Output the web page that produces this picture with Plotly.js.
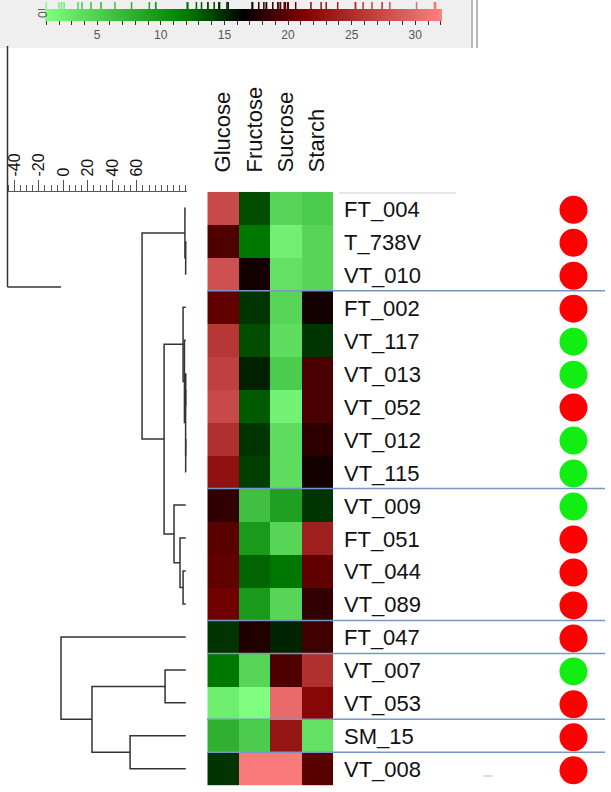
<!DOCTYPE html>
<html>
<head>
<meta charset="utf-8">
<script src="https://cdn.plot.ly/plotly-3.0.1.min.js"></script>
<style>html,body{margin:0;padding:0;background:#fff;}#chart{width:611px;height:792px;}</style>
</head>
<body>
<div id="chart"></div>
<script>
// ---------- data ----------
var sugars = ['Glucose', 'Fructose', 'Sucrose', 'Starch'];
var samples = ['FT_004','T_738V','VT_010','FT_002','VT_117','VT_013','VT_052','VT_012','VT_115',
               'VT_009','FT_051','VT_044','VT_089','FT_047','VT_007','VT_053','SM_15','VT_008'];
var glucose  = [27.4, 19.4, 28.0, 20.0, 25.9, 26.6, 27.4, 25.3, 22.6, 18.3, 19.8, 20.0, 20.6, 14.6, 12.1, 2.4, 7.7, 14.6];
var fructose = [13.7, 12.1, 17.2, 14.6, 13.7, 15.3, 13.2, 14.6, 14.2, 6.4, 9.6, 12.8, 9.6, 17.7, 4.5, 1.0, 5.3, 31.5];
var sucrose  = [4.5, 2.2, 3.5, 4.5, 3.8, 5.3, 2.0, 3.8, 3.8, 9.1, 4.5, 12.1, 4.5, 15.2, 19.4, 30.1, 23.0, 31.6];
var starch   = [5.3, 4.5, 4.5, 17.2, 14.6, 19.2, 19.2, 18.1, 17.2, 14.6, 23.9, 20.0, 18.3, 18.8, 25.3, 21.8, 3.5, 19.7];
var sampleClass = ['R','R','R','R','G','G','R','G','G','G','R','R','R','R','G','R','R','R'];
var groupSizes = [3, 6, 4, 1, 2, 1, 1];
// dendrogram merges: [childA, childB, height]; leaves are 0..17, merge k gets id 18+k
var merges = [
  [1, 2, 99.9], [0, 18, 99.3],
  [5, 6, 99.9], [7, 8, 99.9], [20, 21, 99.85], [4, 22, 98.9], [3, 23, 97.8],
  [11, 12, 97.8], [10, 25, 95.3], [9, 26, 90.4],
  [24, 27, 82.3], [19, 28, 64.3],
  [14, 15, 83.1], [16, 17, 54.5], [30, 31, 23.4], [13, 32, -1.9]
];
var leafHeight = 100;
var scaleTicks = [-40, -20, 0, 20, 40, 60];
var barTicks = [];
for (var t = 1; t <= 32; t++) barTicks.push(t);
var zMin = 0.9, zMax = 32.1;

(function(){
// ---------- helpers ----------
var W = 611, H = 792;
function px(x){ return x / W; }
function py(y){ return 1 - y / H; }
var FONT = 'Liberation Sans, Arial, sans-serif';
var cscale = [[0,'#80ff80'],[0.35,'#008000'],[0.5,'#000000'],[0.65,'#800000'],[1,'#ff8080']];
var TOP = 191.8, BOT = 785.3;

var rowIdx = samples.map(function(_, i){ return i; });
var z = samples.map(function(_, i){ return [glucose[i], fructose[i], sucrose[i], starch[i]]; });

// dendrogram path
var pos = {}, hgt = {};
rowIdx.forEach(function(i){ pos[i] = i; hgt[i] = leafHeight; });
var dx = [], dy = [];
merges.forEach(function(m, k){
  var a = m[0], b = m[1], h = m[2], id = samples.length + k;
  dx.push(hgt[a], h, h, hgt[b], null);
  dy.push(pos[a], pos[a], pos[b], pos[b], null);
  pos[id] = (pos[a] + pos[b]) / 2; hgt[id] = h;
});

// rug values
var rug = glucose.concat(fructose, sucrose, starch);

var traces = [
  {
    type: 'heatmap', x: sugars, y: rowIdx, z: z, xaxis: 'x', yaxis: 'y',
    colorscale: cscale, zmin: zMin, zmax: zMax,
    colorbar: {
      orientation: 'h', x: px(243.5), xanchor: 'center', y: py(9), yanchor: 'top',
      len: 397, lenmode: 'pixels', thickness: 12, thicknessmode: 'pixels',
      xpad: 0, ypad: 0, outlinewidth: 0,
      tickvals: barTicks, ticktext: barTicks.map(function(v){ return v % 5 === 0 ? String(v) : ''; }),
      ticks: 'outside', ticklen: 4, tickcolor: '#333', tickwidth: 1,
      tickfont: {family: FONT, size: 12, color: '#555'}
    }
  },
  {
    type: 'scatter', mode: 'lines', x: dx, y: dy, xaxis: 'x2', yaxis: 'y',
    line: {color: '#333', width: 1.5}, hoverinfo: 'skip', connectgaps: false
  },
  {
    type: 'scatter', mode: 'text', x: samples.map(function(){ return 344; }), y: rowIdx,
    text: samples, textposition: 'middle right', xaxis: 'x3', yaxis: 'y3',
    textfont: {family: FONT, size: 22, color: '#111'}, cliponaxis: false
  },
  {
    type: 'scatter', mode: 'markers', x: samples.map(function(){ return 573.5; }), y: rowIdx,
    xaxis: 'x3', yaxis: 'y4',
    marker: {size: 28, color: sampleClass.map(function(s){ return s === 'R' ? '#ff0000' : '#11ee11'; }), line: {width: 0}}
  },
  {
    type: 'scatter', mode: 'markers', x: rug, y: rug.map(function(){ return 0.5; }),
    xaxis: 'x4', yaxis: 'y2',
    marker: {symbol: 'line-ns-open', size: 7, color: rug, colorscale: cscale, cmin: zMin, cmax: zMax,
             line: {width: 1.5}},
    hoverinfo: 'skip'
  }
];

// separators from group sizes
var shapes = [];
var cum = 0;
groupSizes.slice(0, -1).forEach(function(g){
  cum += g;
  shapes.push({type: 'line', xref: 'paper', yref: 'y', x0: px(207), x1: px(605), y0: cum - 0.5, y1: cum - 0.5,
               line: {color: '#7896c4', width: 1.5}});
});
// decorations
shapes.push({type: 'rect', xref: 'paper', yref: 'paper', x0: 0, x1: px(472), y0: py(48), y1: 1,
             fillcolor: '#efefef', line: {width: 0}, layer: 'below'});
shapes.push({type: 'line', xref: 'paper', yref: 'paper', x0: px(472), x1: px(472), y0: py(48), y1: 1, line: {color: '#b8b8b8', width: 2}});
shapes.push({type: 'line', xref: 'paper', yref: 'paper', x0: px(477), x1: px(477), y0: py(48), y1: 1, line: {color: '#b8b8b8', width: 2}});
shapes.push({type: 'line', xref: 'paper', yref: 'paper', x0: px(38), x1: px(45), y0: py(9.5), y1: py(9.5), line: {color: '#666', width: 1}});
shapes.push({type: 'line', xref: 'paper', yref: 'paper', x0: px(7.5), x1: px(7.5), y0: py(46), y1: py(287), line: {color: '#333', width: 1.5}});
shapes.push({type: 'line', xref: 'paper', yref: 'paper', x0: px(7.5), x1: px(61), y0: py(287), y1: py(287), line: {color: '#333', width: 1.5}});
shapes.push({type: 'line', xref: 'paper', yref: 'paper', x0: px(339), x1: px(456), y0: py(193), y1: py(193), line: {color: '#cccccc', width: 1}});
shapes.push({type: 'line', xref: 'paper', yref: 'paper', x0: px(483), x1: px(493), y0: py(776), y1: py(776), line: {color: '#dddddd', width: 2}});

var hidden = {showticklabels: false, ticks: '', showgrid: false, zeroline: false, showline: false, fixedrange: true};
function yax(off, anchor){
  var o = {domain: [py(BOT + off), py(TOP + off)], range: [17.5, -0.5], anchor: anchor};
  for (var k in hidden) o[k] = hidden[k];
  return o;
}

var layout = {
  width: W, height: H, margin: {l: 0, r: 0, t: 0, b: 0},
  paper_bgcolor: '#ffffff', plot_bgcolor: 'rgba(0,0,0,0)', showlegend: false,
  font: {family: FONT},
  xaxis: {domain: [px(207.3), px(333)], anchor: 'y', side: 'top', type: 'category',
          tickangle: -90, tickfont: {family: FONT, size: 22, color: '#111'},
          ticks: 'outside', ticklen: 14, tickcolor: 'rgba(0,0,0,0)',
          showgrid: false, zeroline: false, showline: false, fixedrange: true},
  yaxis: yax(0, 'x'),
  yaxis3: yax(3, 'x3'),
  yaxis4: yax(1.5, 'x3'),
  xaxis2: {domain: [px(7), px(187)], anchor: 'y', side: 'top', range: [-46, 101],
           tickvals: scaleTicks, ticktext: scaleTicks.map(String), tickangle: -90,
           tickfont: {family: FONT, size: 16, color: '#111'},
           ticks: 'outside', ticklen: 11, tickcolor: '#555', tickwidth: 1,
           minor: {dtick: 5, tick0: 0, ticks: 'outside', ticklen: 6, tickcolor: '#555', showgrid: false},
           showline: true, linecolor: '#555', linewidth: 1,
           showgrid: false, zeroline: false, fixedrange: true},
  xaxis3: {domain: [px(333), 1], anchor: 'y3', range: [333, 611], visible: false, fixedrange: true},
  xaxis4: {domain: [px(45), px(442)], anchor: 'y2', range: [zMin, zMax], visible: false, fixedrange: true},
  yaxis2: {domain: [py(9), py(2)], anchor: 'x4', range: [0, 1], visible: false, fixedrange: true},
  shapes: shapes,
  annotations: [
    {xref: 'paper', yref: 'paper', x: px(34), y: py(9.5), text: '0', showarrow: false, textangle: -90,
     font: {family: FONT, size: 12, color: '#555'}}
  ]
};

Plotly.newPlot('chart', traces, layout, {staticPlot: true, displayModeBar: false});
})();
</script>
</body>
</html>
